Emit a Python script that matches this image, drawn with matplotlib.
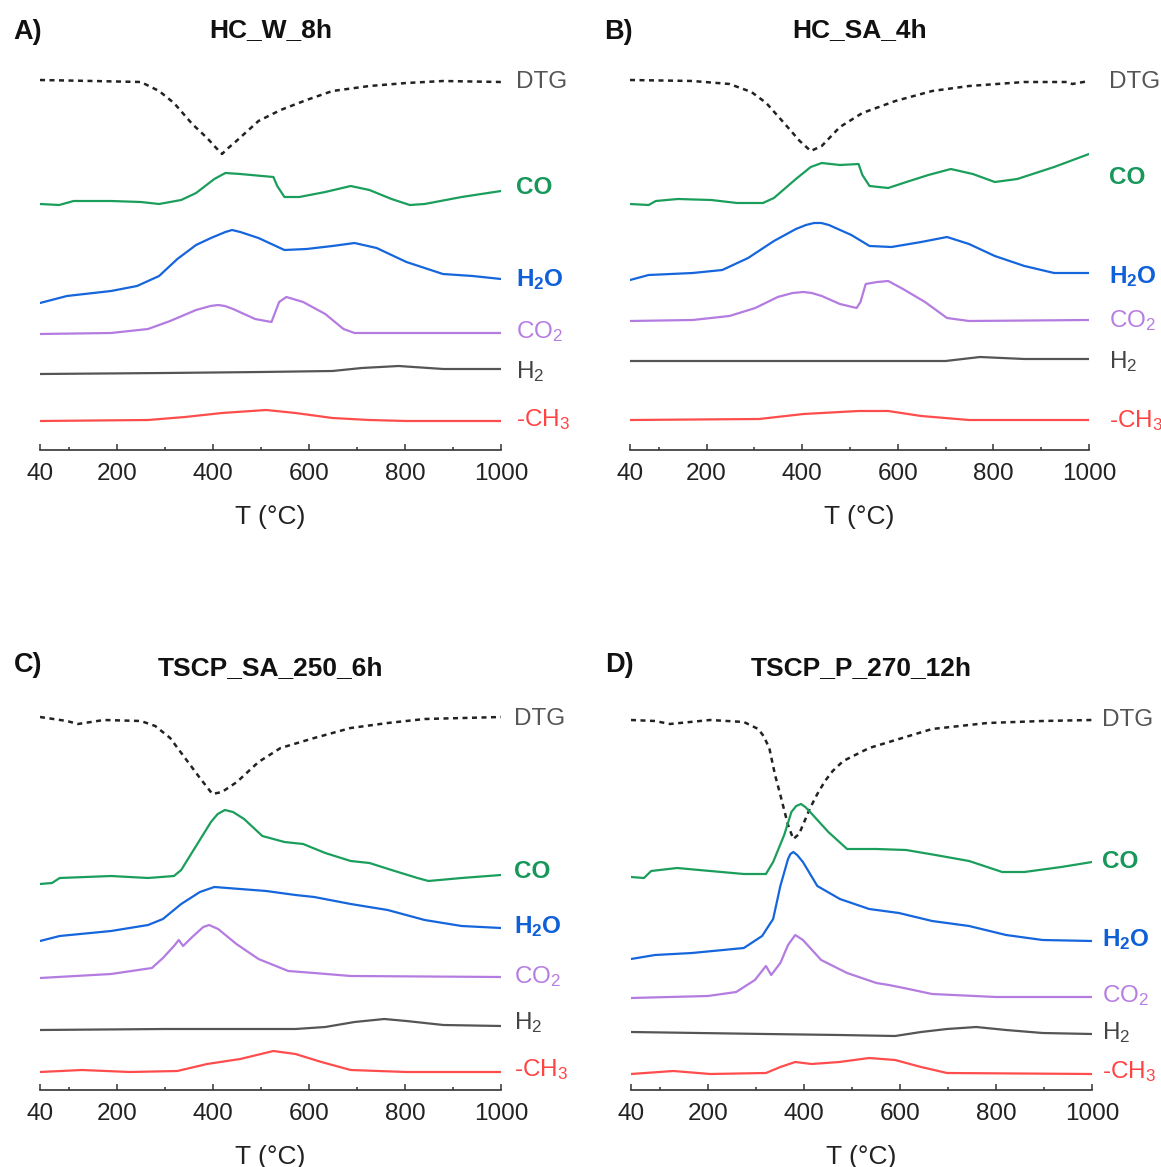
import matplotlib
matplotlib.use("Agg")
import matplotlib.pyplot as plt
from matplotlib.ticker import FixedLocator

plt.rcParams['font.family'] = ['Liberation Sans', 'DejaVu Sans']
plt.rcParams['mathtext.default'] = 'regular'

# ---- evolved-gas traces, intensity in a.u. relative to each trace's own baseline ----

# A) HC_W_8h
A_T_DTG = [40, 150, 250, 288, 319, 357, 388, 405, 419, 432, 449, 495, 541, 595, 649, 726, 803, 880, 1000]
A_DTG = [0, -1, -2, -11, -23, -44, -58, -67, -74, -68, -61, -41, -30, -20, -11, -6, -3, -1, -2]
A_T_CO = [40, 80, 110, 188, 250, 288, 334, 365, 403, 426, 457, 526, 534, 549, 580, 634, 687, 726, 772, 810, 841, 918, 1000]
A_CO = [0, -1, 3, 3, 2, 0, 4, 11, 25, 31, 30, 27, 18, 7, 7, 12, 18, 14, 5, -1, 0, 7, 13]
A_T_H2O = [40, 96, 188, 242, 288, 326, 365, 396, 426, 440, 457, 495, 549, 595, 649, 695, 741, 803, 879, 941, 1000]
A_H2O = [0, 7, 12, 17, 27, 44, 58, 65, 71, 73, 71, 65, 53, 54, 57, 60, 55, 41, 29, 27, 24]
A_T_CO2 = [40, 188, 265, 311, 365, 395, 411, 425, 442, 488, 522, 530, 538, 553, 588, 634, 672, 695, 803, 1000]
A_CO2 = [0, 1, 5, 13, 24, 28, 29, 28, 25, 15, 12, 22, 32, 37, 32, 20, 5, 1, 1, 1]
A_T_H2 = [40, 300, 500, 649, 710, 787, 880, 1000]
A_H2 = [0, 1, 2, 3, 6, 8, 5, 5]
A_T_CH3 = [40, 265, 342, 419, 511, 572, 649, 726, 803, 1000]
A_CH3 = [0, 1, 4, 8, 11, 8, 3, 1, 0, 0]

# B) HC_SA_4h
B_T_DTG = [40, 171, 248, 294, 325, 364, 395, 418, 441, 479, 526, 595, 672, 749, 865, 957, 965, 1000]
B_DTG = [0, -1, -4, -12, -23, -44, -61, -71, -66, -47, -33, -21, -11, -6, -2, -2, -4, -1]
B_T_CO = [40, 79, 94, 140, 210, 264, 318, 341, 387, 418, 441, 479, 518, 526, 541, 580, 618, 664, 711, 757, 803, 850, 927, 1000]
B_CO = [0, -1, 3, 5, 4, 1, 1, 6, 25, 37, 41, 39, 40, 29, 18, 16, 22, 29, 35, 30, 22, 25, 37, 50]
B_T_H2O = [40, 79, 171, 233, 287, 341, 387, 408, 425, 440, 456, 503, 541, 587, 649, 703, 749, 803, 865, 927, 1000]
B_H2O = [0, 5, 7, 10, 22, 39, 51, 55, 57, 57, 55, 45, 34, 33, 38, 43, 36, 24, 14, 7, 7]
B_T_CO2 = [40, 171, 248, 302, 349, 380, 403, 420, 441, 479, 514, 522, 533, 557, 580, 611, 657, 703, 749, 1000]
B_CO2 = [0, 1, 5, 13, 24, 28, 29, 28, 25, 17, 13, 19, 37, 39, 40, 32, 19, 3, 0, 1]
B_T_H2 = [40, 400, 700, 772, 865, 1000]
B_H2 = [0, 0, 0, 4, 2, 2]
B_T_CH3 = [40, 310, 403, 518, 580, 649, 749, 1000]
B_CH3 = [0, 1, 6, 9, 9, 4, 0, 0]

# C) TSCP_SA_250_6h
C_T_DTG = [40, 96, 119, 173, 250, 280, 311, 342, 373, 399, 419, 450, 495, 541, 611, 687, 764, 841, 1000]
C_DTG = [0, -4, -7, -3, -4, -9, -21, -41, -61, -77, -75, -65, -45, -31, -21, -11, -6, -2, 0]
C_T_CO = [40, 65, 81, 188, 265, 319, 334, 365, 396, 410, 425, 442, 465, 503, 549, 588, 634, 687, 726, 772, 826, 849, 918, 1000]
C_CO = [0, 1, 6, 8, 6, 8, 14, 38, 62, 70, 74, 72, 65, 48, 42, 40, 31, 23, 21, 14, 6, 3, 6, 9]
C_T_H2O = [40, 81, 188, 265, 296, 334, 373, 403, 457, 511, 572, 611, 687, 764, 841, 918, 1000]
C_H2O = [0, 5, 10, 16, 22, 37, 49, 54, 52, 50, 46, 44, 37, 31, 21, 15, 13]
C_T_CO2 = [40, 188, 273, 296, 319, 329, 338, 357, 380, 392, 411, 449, 495, 557, 611, 687, 1000]
C_CO2 = [0, 4, 10, 20, 32, 38, 32, 41, 51, 53, 49, 34, 19, 7, 5, 2, 1]
C_T_H2 = [40, 300, 572, 634, 695, 757, 803, 880, 1000]
C_H2 = [0, 1, 1, 3, 8, 11, 9, 5, 4]
C_T_CH3 = [40, 127, 227, 326, 388, 457, 526, 572, 626, 687, 803, 1000]
C_CH3 = [0, 2, 0, 1, 8, 13, 21, 18, 10, 2, 0, 0]

# D) TSCP_P_270_12h
D_T_DTG = [40, 90, 121, 205, 275, 305, 316, 328, 340, 351, 367, 378, 390, 413, 428, 444, 460, 482, 536, 598, 667, 782, 897, 1000]
D_DTG = [0, -1, -4, 0, -2, -9, -16, -28, -55, -75, -105, -119, -114, -88, -74, -61, -51, -41, -28, -19, -9, -3, -1, 0]
D_T_CO = [40, 67, 82, 136, 205, 275, 321, 336, 359, 374, 384, 394, 403, 413, 451, 490, 551, 613, 674, 744, 813, 859, 936, 1000]
D_CO = [0, -1, 6, 9, 6, 3, 3, 15, 42, 65, 71, 73, 70, 65, 45, 28, 28, 27, 22, 16, 5, 5, 10, 15]
D_T_H2O = [40, 90, 167, 275, 313, 336, 351, 367, 372, 378, 386, 398, 428, 475, 536, 598, 667, 744, 821, 897, 1000]
D_H2O = [0, 4, 6, 11, 23, 40, 73, 100, 105, 107, 104, 97, 73, 60, 50, 46, 38, 33, 24, 19, 18]
D_T_CO2 = [40, 200, 259, 298, 321, 332, 351, 367, 382, 398, 436, 490, 551, 577, 608, 667, 800, 1000]
D_CO2 = [0, 2, 6, 18, 32, 23, 35, 53, 63, 58, 38, 25, 15, 13, 10, 4, 1, 1]
D_T_H2 = [40, 321, 474, 590, 644, 698, 759, 821, 897, 1000]
D_H2 = [0, -2, -3, -4, 0, 3, 5, 2, -1, -2]
D_T_CH3 = [40, 128, 205, 321, 351, 382, 416, 474, 536, 590, 644, 698, 1000]
D_CH3 = [0, 3, 0, 1, 7, 12, 10, 12, 16, 14, 7, 1, 0]

TITLES = ['HC_W_8h', 'HC_SA_4h', 'TSCP_SA_250_6h', 'TSCP_P_270_12h']
LETTERS = ['A)', 'B)', 'C)', 'D)']
GASES = ['DTG', 'CO', 'H2O', 'CO2', 'H2', 'CH3']
GAS_LABELS = ['DTG', 'CO', 'H$_2$O', 'CO$_2$', 'H$_2$', '-CH$_3$']

# vertical stacking of the traces in each panel
OFFSETS = [
    [370, 246, 147, 116, 76, 29],
    [370, 246, 170, 129, 89, 30],
    [373, 206, 149, 112, 60, 18],
    [370, 213, 131, 92, 58, 16],
]
LABEL_Y = [
    [368, 262, 170, 118, 78, 30],
    [368, 273, 173, 129, 88, 29],
    [371, 218, 163, 113, 67, 20],
    [370, 228, 150, 94, 57, 18],
]
LABEL_DX = [15, 20, 13, 10]

LINE_COLORS = ['#222222', '#1b9e5c', '#1565dd', '#b47be0', '#555555', '#ff4d4d']
TEXT_COLORS = ['#555555', '#17975a', '#0e5fd8', '#b67ee2', '#444444', '#ff4242']
TEXT_WEIGHTS = ['normal', 'bold', 'bold', 'normal', 'normal', 'normal']

DATA = [
    [(A_T_DTG, A_DTG), (A_T_CO, A_CO), (A_T_H2O, A_H2O), (A_T_CO2, A_CO2), (A_T_H2, A_H2), (A_T_CH3, A_CH3)],
    [(B_T_DTG, B_DTG), (B_T_CO, B_CO), (B_T_H2O, B_H2O), (B_T_CO2, B_CO2), (B_T_H2, B_H2), (B_T_CH3, B_CH3)],
    [(C_T_DTG, C_DTG), (C_T_CO, C_CO), (C_T_H2O, C_H2O), (C_T_CO2, C_CO2), (C_T_H2, C_H2), (C_T_CH3, C_CH3)],
    [(D_T_DTG, D_DTG), (D_T_CO, D_CO), (D_T_H2O, D_H2O), (D_T_CO2, D_CO2), (D_T_H2, D_H2), (D_T_CH3, D_CH3)],
]

W, H = 1161, 1167
# axes boxes in pixels: left, right, bottom (axis line), top
BOXES = [(40, 501, 450, 60), (630, 1089, 450, 60), (40, 501, 1090, 700), (631, 1092, 1090, 700)]

fig = plt.figure(figsize=(W / 100, H / 100), dpi=100)

for i, (l, r, b, t) in enumerate(BOXES):
    ax = fig.add_axes([l / W, (H - b) / H, (r - l) / W, (b - t) / H])
    for j, (temp, sig) in enumerate(DATA[i]):
        y = [v + OFFSETS[i][j] for v in sig]
        if GASES[j] == 'DTG':
            ax.plot(temp, y, color=LINE_COLORS[j], lw=1.8, linestyle=(0, (2.0, 1.8)))
        else:
            ax.plot(temp, y, color=LINE_COLORS[j], lw=1.6, solid_joinstyle='round')
        ax.annotate(GAS_LABELS[j], xy=(1.0, LABEL_Y[i][j]), xycoords=('axes fraction', 'data'),
                    xytext=(LABEL_DX[i] * 0.72, 0), textcoords='offset points',
                    ha='left', va='center', fontsize=17.5, color=TEXT_COLORS[j],
                    fontweight=TEXT_WEIGHTS[j], annotation_clip=False)

    ax.set_xlim(40, 1000)
    ax.set_ylim(0, b - t)
    ax.xaxis.set_major_locator(FixedLocator([40, 200, 400, 600, 800, 1000]))
    ax.xaxis.set_minor_locator(FixedLocator([100, 300, 500, 700, 900]))
    ax.tick_params(axis='x', which='major', direction='in', length=4, width=1.1,
                   colors='#333333', labelcolor='#222222', labelsize=17.5, pad=9.5)
    ax.tick_params(axis='x', which='minor', direction='in', length=2.5, width=1.1, colors='#333333')
    ax.set_yticks([])
    for side in ['left', 'top', 'right']:
        ax.spines[side].set_visible(False)
    ax.spines['bottom'].set_color('#333333')
    ax.spines['bottom'].set_linewidth(1.2)
    ax.set_xlabel('T (°C)', fontsize=19, color='#222222', labelpad=14)

    h = b - t
    ax.text(0.5, 1 + 30 / h if i < 2 else 1 + 32 / h, TITLES[i], transform=ax.transAxes,
            ha='center', va='center', fontsize=19, fontweight='bold', color='#111111')
    ax.text(-12 / (r - l), 1 + 28 / h if i < 2 else 1 + 35 / h, LETTERS[i], transform=ax.transAxes,
            ha='center', va='center', fontsize=19.5, fontweight='bold', color='#111111')

fig.savefig('out.png', dpi=100)
